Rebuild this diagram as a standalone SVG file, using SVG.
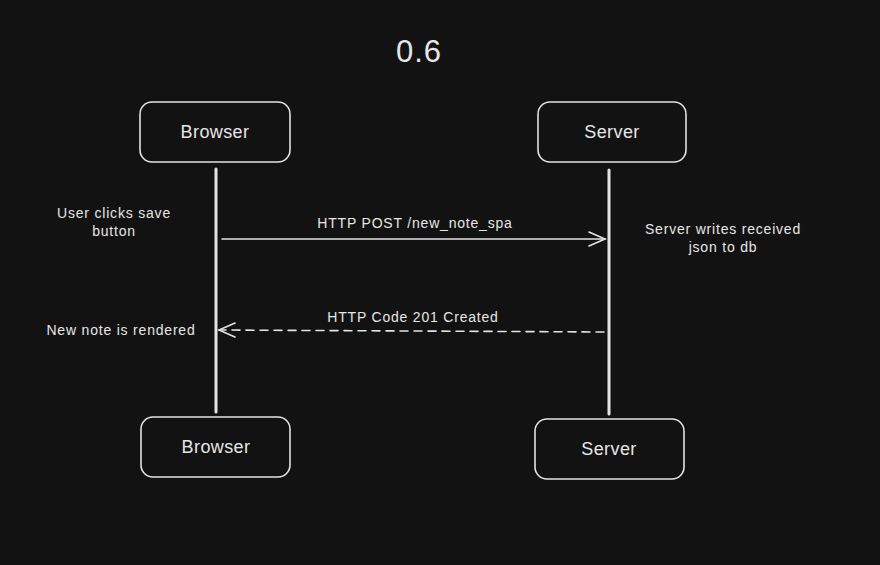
<svg xmlns="http://www.w3.org/2000/svg" width="880" height="565" viewBox="0 0 880 565">
<style>
.box{fill:none;stroke:#e3e3e3;stroke-width:1.6}
.life{stroke:#e3e3e3;stroke-width:3;stroke-linecap:round}
.msg{fill:none;stroke:#e3e3e3;stroke-width:1.6;stroke-linecap:round}
.dash{stroke-dasharray:8 6}
.nt{font-family:"Liberation Sans",Arial,sans-serif;font-size:18px;fill:#e6e6e6;text-anchor:middle;letter-spacing:0.4px}
.lb{font-family:"Liberation Sans",Arial,sans-serif;font-size:14px;fill:#e6e6e6;text-anchor:middle;letter-spacing:0.8px}
.ttl{font-family:"Liberation Sans",Arial,sans-serif;font-size:31px;fill:#e6e6e6;text-anchor:middle;letter-spacing:1px}
</style>
<defs>
<marker id="ah" viewBox="0 0 20 20" refX="18" refY="10" markerWidth="20" markerHeight="20" markerUnits="userSpaceOnUse" orient="auto">
<path d="M2,3 L18,10 L2,17" fill="none" stroke="#e3e3e3" stroke-width="1.6" stroke-linecap="round"/>
</marker>
</defs>
<rect width="880" height="565" fill="#121212"/>
<text class="ttl" x="419" y="62">0.6</text>
<g id="connectors">
<line class="life" x1="216" y1="169" x2="216" y2="412"/>
<line class="life" x1="609" y1="170" x2="609" y2="414"/>
<line class="msg" x1="222" y1="239" x2="605" y2="239" marker-end="url(#ah)"/>
<line class="msg dash" x1="604" y1="332" x2="219" y2="330" marker-end="url(#ah)"/>
</g>
<g id="browser-top"><rect class="box" x="140" y="102" width="150" height="60" rx="12"/><text class="nt" x="215" y="138">Browser</text></g>
<g id="server-top"><rect class="box" x="538" y="102" width="148" height="60" rx="12"/><text class="nt" x="612" y="138">Server</text></g>
<g id="browser-bottom"><rect class="box" x="141" y="417" width="149" height="60" rx="12"/><text class="nt" x="216" y="453">Browser</text></g>
<g id="server-bottom"><rect class="box" x="535" y="419" width="149" height="60" rx="12"/><text class="nt" x="609" y="455">Server</text></g>
<g id="labels">
<text class="lb" x="114" y="218">User clicks save</text>
<text class="lb" x="114" y="236">button</text>
<text class="lb" x="415" y="228">HTTP POST /new_note_spa</text>
<text class="lb" x="723" y="234">Server writes received</text>
<text class="lb" x="723" y="252">json to db</text>
<text class="lb" x="413" y="322">HTTP Code 201 Created</text>
<text class="lb" x="121" y="335">New note is rendered</text>
</g>
</svg>
